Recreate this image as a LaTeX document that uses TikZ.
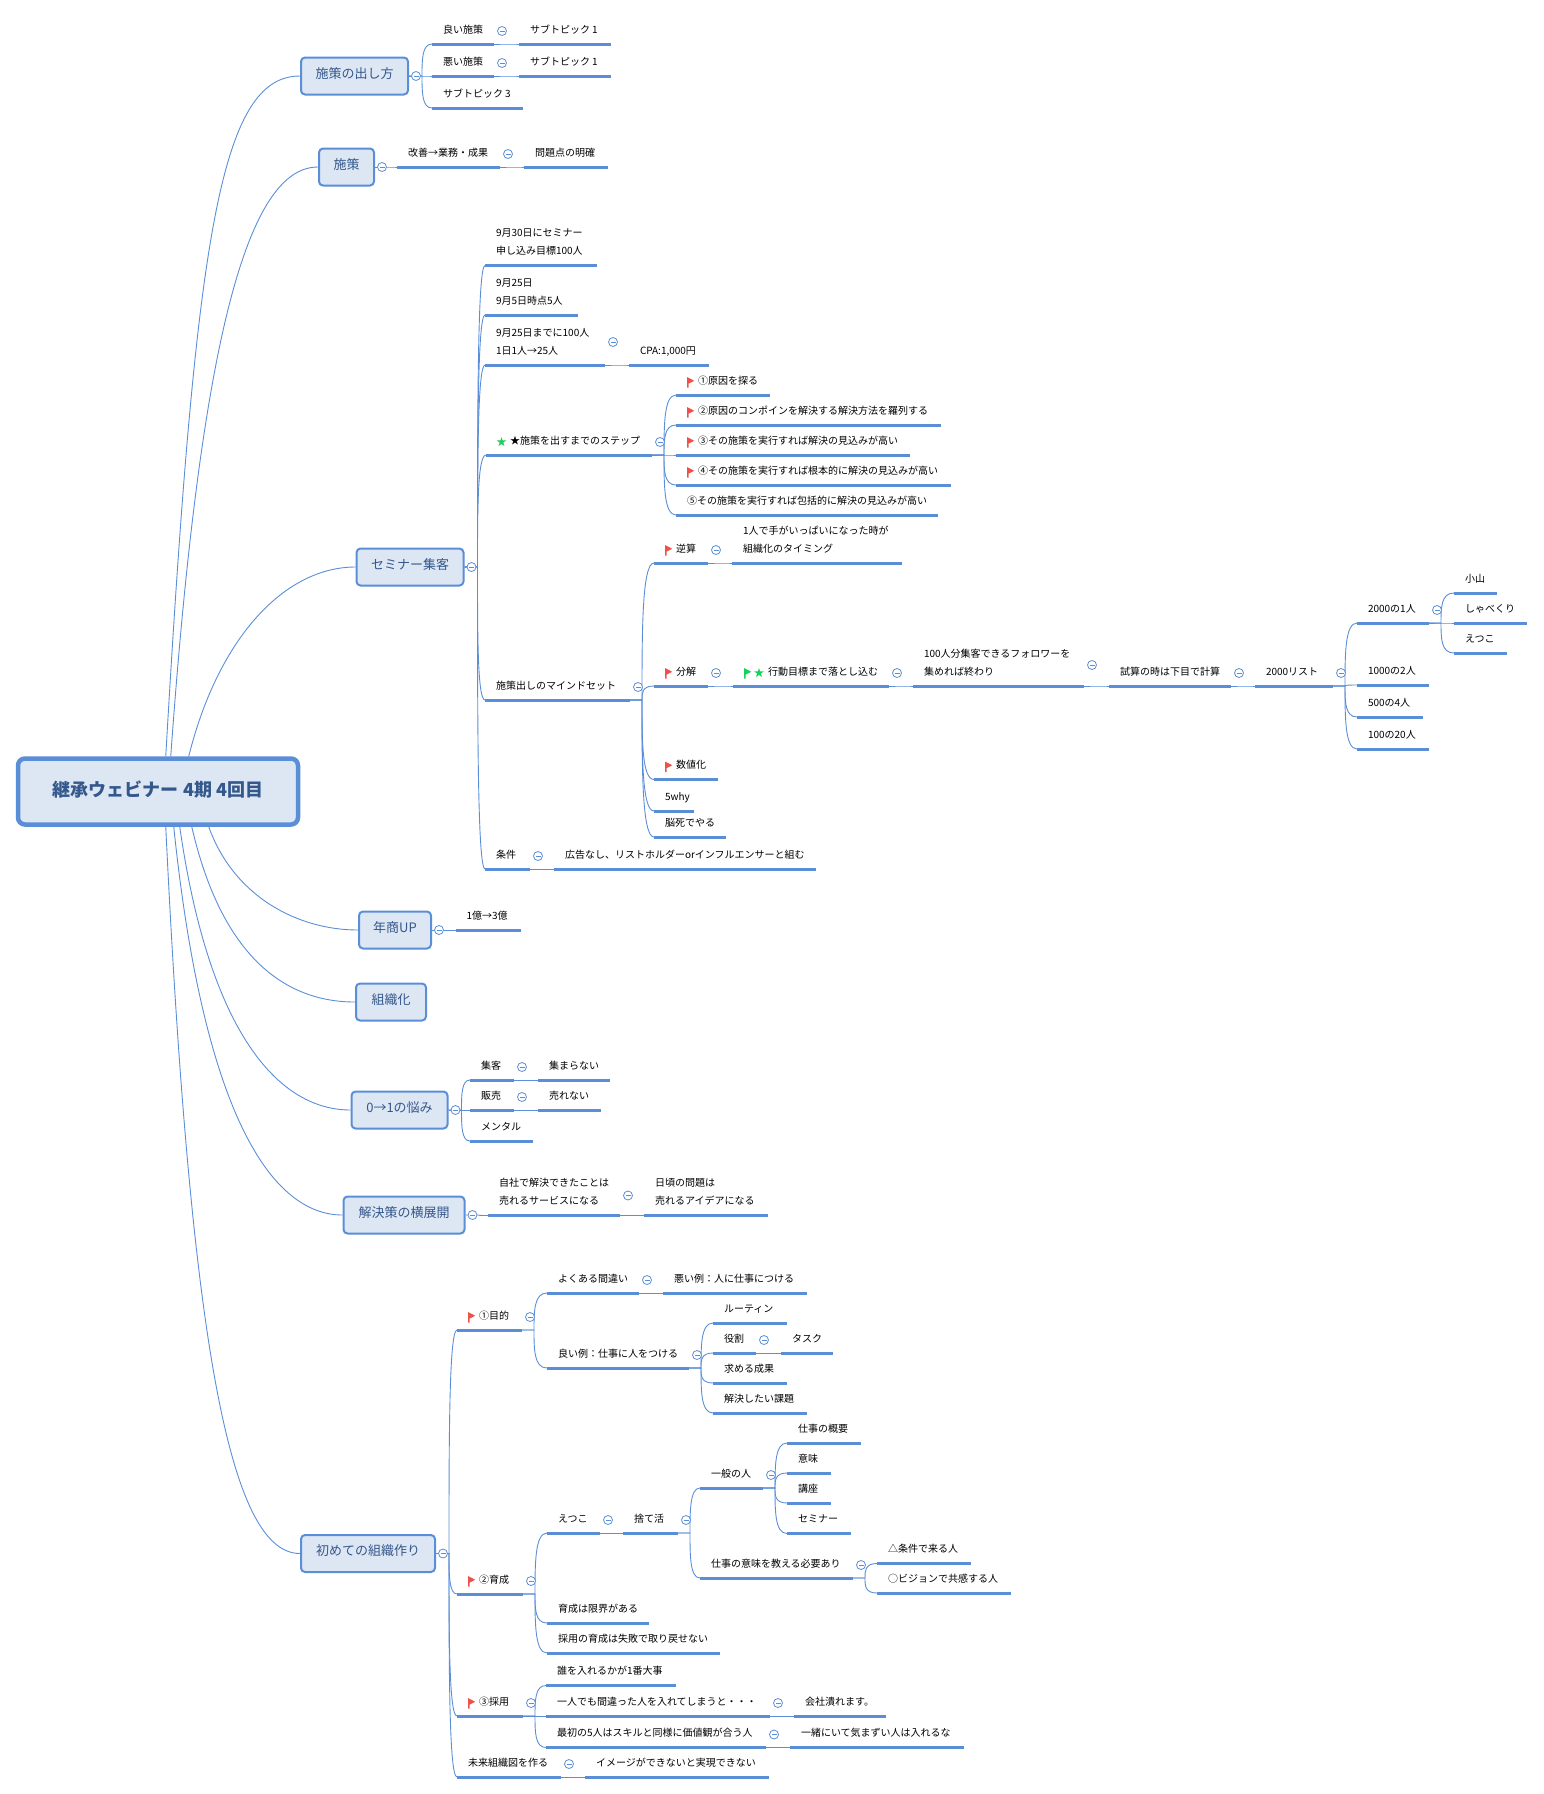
\documentclass[tikz,border=0pt]{standalone}
\usepackage{fontspec}
\setmainfont{Noto Sans CJK JP}
\usetikzlibrary{positioning, calc}

\definecolor{linkblue}{HTML}{5A8FD8}
\definecolor{boxfill}{HTML}{DDE6F3}
\definecolor{boxtext}{HTML}{34588C}
\definecolor{flagr}{HTML}{F0504A}
\definecolor{flagg}{HTML}{14D25A}

\tikzset{
	rootbox/.style={draw=linkblue, fill=boxfill, line width=4.5pt, rounded corners=7pt, text=boxtext, minimum width=280pt, minimum height=66pt, text height=12pt, text depth=3pt, font=\fontsize{18}{22}\selectfont\bfseries},
	topic/.style={draw=linkblue, fill=boxfill, line width=2pt, rounded corners=4pt, text=boxtext, minimum height=37pt, text height=8pt, text depth=4pt, font=\fontsize{13}{16}\selectfont},
	branch/.style={draw=linkblue, line width=0.9pt},
	bar/.style={draw=linkblue, line width=3pt},
	leaf/.style={anchor=south west, inner sep=0pt, outer sep=0pt, text depth=11pt, font=\fontsize{10}{12}\selectfont,
		execute at begin node={\hbox to #1pt\bgroup\hspace{11pt}},
		execute at end node={\hfil\egroup},
		append after command={(\tikzlastnode.south west) edge[bar] (\tikzlastnode.south east)}},
	fold/.style={circle, draw=linkblue, fill=white, line width=0.8pt, inner sep=0pt, minimum size=9pt,
		path picture={\draw[linkblue, line width=0.7pt] ([xshift=2pt]path picture bounding box.west) -- ([xshift=-2pt]path picture bounding box.east);}},
	flag/.pic={\fill[#1] (0,0) -- (7.3,3.8) -- (1.5,6.6) -- (1.5,10.5) -- (0,10.5) -- cycle;},
	starmark/.pic={\fill[#1] (-90:5) \foreach \i in {1,...,4} {-- (-90+144*\i:5)} -- cycle;},
}

\newcommand{\twolines}[2]{\vbox{\baselineskip=18pt\hbox{#1}\hbox{#2}}}
\newcommand{\ico}{\hspace*{11pt}}
\newcommand{\fork}[3][-13]{
	\foreach \kid in {#3} {\draw[branch] (#2.south east) -- ++(12,0) coordinate (f) .. controls ($(f)!0.5!(f |- \kid.south west)$) and (f |- \kid.south west) .. (\kid.south west);}
	\node[fold] (m#2) at ([shift={(8,#1)}]#2.south east) {};
}
\newcommand{\forkbox}[2]{
	\foreach \kid in {#2} {\draw[branch] (#1.east) -- ++(13,0) coordinate (f) .. controls ($(f)!0.5!(f |- \kid.south west)$) and (f |- \kid.south west) .. (\kid.south west);}
	\node[fold] (m#1) at ([xshift=7pt]#1.east) {};
}

\begin{document}
\begin{tikzpicture}[x=1pt, y=-1pt]

	\useasboundingbox (0,0) rectangle (1544,1794);

	% root and main topics
	\node[rootbox] (root) at (158,791.5) {継承ウェビナー 4期 4回目};
	\node[topic, minimum width=107pt] (t1) at (354.5,76) {施策の出し方};
	\node[topic, minimum width=55pt] (t2) at (346.5,167) {施策};
	\node[topic, minimum width=107pt] (t3) at (410,567) {セミナー集客};
	\node[topic, minimum width=72pt] (t4) at (395,930) {年商UP};
	\node[topic, minimum width=70pt] (t5) at (391,1002) {組織化};
	\node[topic, minimum width=96pt] (t6) at (399.5,1110) {0→1の悩み};
	\node[topic, minimum width=121pt] (t7) at (404,1215) {解決策の横展開};
	\node[topic, minimum width=134pt] (t8) at (368,1553.5) {初めての組織作り};

	\draw[branch] ([xshift=150pt]root.north west) .. controls +(30,-520) and +(-80,0) .. (t1.west);
	\draw[branch] ([xshift=155pt]root.north west) .. controls +(30,-420) and +(-70,0) .. (t2.west);
	\draw[branch] ([xshift=173pt]root.north west) .. controls +(30,-120) and +(-70,0) .. (t3.west);
	\draw[branch] ([xshift=193pt]root.south west) .. controls +(25,70) and +(-60,0) .. (t4.west);
	\draw[branch] ([xshift=176pt]root.south west) .. controls +(30,130) and +(-70,0) .. (t5.west);
	\draw[branch] ([xshift=164pt]root.south west) .. controls +(30,210) and +(-70,0) .. (t6.west);
	\draw[branch] ([xshift=158pt]root.south west) .. controls +(30,290) and +(-70,0) .. (t7.west);
	\draw[branch] ([xshift=150pt]root.south west) .. controls +(25,520) and +(-70,0) .. (t8.west);

	% first topic
	\node[leaf=62] (t1a) at (432,44) {良い施策};
	\node[leaf=92] (t1a1) at (519,44) {サブトピック 1};
	\node[leaf=62] (t1b) at (432,76) {悪い施策};
	\node[leaf=92] (t1b1) at (519,76) {サブトピック 1};
	\node[leaf=91] (t1c) at (432,108) {サブトピック 3};

	% second topic
	\node[leaf=103] (t2a) at (397,167) {改善→業務・成果};
	\node[leaf=84] (t2a1) at (524,167) {問題点の明確};

	% seminar topic
	\node[leaf=112] (t3a) at (485,265.5) {\twolines{9月30日にセミナー}{申し込み目標100人}};
	\node[leaf=93] (t3b) at (485,315) {\twolines{9月25日}{9月5日時点5人}};
	\node[leaf=120] (t3c) at (485,365) {\twolines{9月25日までに100人}{1日1人→25人}};
	\node[leaf=80] (t3c1) at (629,365) {CPA:1,000円};
	\node[leaf=166] (t3d) at (486,455) {\hspace*{13pt}★施策を出すまでのステップ};
	\node[leaf=94] (t3d1) at (676,395) {\ico ①原因を探る};
	\node[leaf=265] (t3d2) at (676,425) {\ico ②原因のコンポインを解決する解決方法を羅列する};
	\node[leaf=234] (t3d3) at (676,455) {\ico ③その施策を実行すれば解決の見込みが高い};
	\node[leaf=275] (t3d4) at (676,485) {\ico ④その施策を実行すれば根本的に解決の見込みが高い};
	\node[leaf=262] (t3d5) at (676,515) {⑤その施策を実行すれば包括的に解決の見込みが高い};
	\node[leaf=145] (t3e) at (485,700) {施策出しのマインドセット};
	\node[leaf=54] (t3e1) at (654,563) {\ico 逆算};
	\node[leaf=170] (t3e1a) at (732,563) {\twolines{1人で手がいっぱいになった時が}{組織化のタイミング}};
	\node[leaf=54] (t3e2) at (654,686) {\ico 分解};
	\node[leaf=156] (t3e2a) at (733,686) {\ico\hspace*{13pt}行動目標まで落とし込む};
	\node[leaf=171] (t3e2b) at (913,686) {\twolines{100人分集客できるフォロワーを}{集めれば終わり}};
	\node[leaf=122] (t3e2c) at (1109,686) {試算の時は下目で計算};
	\node[leaf=78] (t3e2d) at (1255,686) {2000リスト};
	\node[leaf=72] (l1) at (1357,623) {2000の1人};
	\node[leaf=72] (l2) at (1357,685) {1000の2人};
	\node[leaf=66] (l3) at (1357,717) {500の4人};
	\node[leaf=72] (l4) at (1357,749) {100の20人};
	\node[leaf=43] (l1a) at (1454,593) {小山};
	\node[leaf=73] (l1b) at (1454,623) {しゃべくり};
	\node[leaf=53] (l1c) at (1454,653) {えつこ};
	\node[leaf=64] (t3e3) at (654,779.5) {\ico 数値化};
	\node[leaf=40] (t3e4) at (654,811) {5why};
	\node[leaf=72] (t3e5) at (654,837) {脳死でやる};
	\node[leaf=45] (t3f) at (485,869) {条件};
	\node[leaf=262] (t3f1) at (554,869) {広告なし、リストホルダーorインフルエンサーと組む};

	% small topics
	\node[leaf=65] (t4a) at (455.5,930) {1億→3億};
	\node[leaf=44] (t6a) at (470,1080) {集客};
	\node[leaf=72] (t6a1) at (538,1080) {集まらない};
	\node[leaf=44] (t6b) at (470,1110) {販売};
	\node[leaf=63] (t6b1) at (538,1110) {売れない};
	\node[leaf=63] (t6c) at (470,1141) {メンタル};
	\node[leaf=132] (t7a) at (488,1215.5) {\twolines{自社で解決できたことは}{売れるサービスになる}};
	\node[leaf=124] (t7a1) at (644,1215.5) {\twolines{日頃の問題は}{売れるアイデアになる}};

	% last topic
	\node[leaf=65] (t8a) at (457,1330) {\ico ①目的};
	\node[leaf=92] (t8a1) at (547,1293) {よくある間違い};
	\node[leaf=144] (t8a1a) at (663,1293) {悪い例：人に仕事につける};
	\node[leaf=142] (t8a2) at (547,1368) {良い例：仕事に人をつける};
	\node[leaf=74] (t8a2a) at (713,1323) {ルーティン};
	\node[leaf=43] (t8a2b) at (713,1353) {役割};
	\node[leaf=52] (t8a2c) at (781,1353) {タスク};
	\node[leaf=74] (t8a2d) at (713,1383) {求める成果};
	\node[leaf=94] (t8a2e) at (713,1413) {解決したい課題};
	\node[leaf=66] (t8b) at (457,1594) {\ico ②育成};
	\node[leaf=53] (t8b1) at (547,1533) {えつこ};
	\node[leaf=55] (t8b1a) at (623,1533) {捨て活};
	\node[leaf=63] (t8b2) at (700,1488) {一般の人};
	\node[leaf=74] (t8b2a) at (787,1443) {仕事の概要};
	\node[leaf=44] (t8b2b) at (787,1473) {意味};
	\node[leaf=44] (t8b2c) at (787,1503) {講座};
	\node[leaf=64] (t8b2d) at (787,1533.5) {セミナー};
	\node[leaf=153] (t8b3) at (700,1578) {仕事の意味を教える必要あり};
	\node[leaf=94] (t8b3a) at (877,1563.5) {△条件で来る人};
	\node[leaf=134] (t8b3b) at (877,1593) {○ビジョンで共感する人};
	\node[leaf=102] (t8b4) at (547,1623) {育成は限界がある};
	\node[leaf=173] (t8b5) at (547,1653) {採用の育成は失敗で取り戻せない};
	\node[leaf=66] (t8c) at (457,1716) {\ico ③採用};
	\node[leaf=130] (t8c1) at (546,1685.5) {誰を入れるかが1番大事};
	\node[leaf=224] (t8c2) at (546,1716) {一人でも間違った人を入れてしまうと・・・};
	\node[leaf=92] (t8c2a) at (794,1716) {会社潰れます。};
	\node[leaf=220] (t8c3) at (546,1747.5) {最初の5人はスキルと同様に価値観が合う人};
	\node[leaf=174] (t8c3a) at (790,1747.5) {一緒にいて気まずい人は入れるな};
	\node[leaf=104] (t8d) at (457,1777) {未来組織図を作る};
	\node[leaf=184] (t8d1) at (585,1777) {イメージができないと実現できない};

	% forks
	\forkbox{t1}{t1a,t1b,t1c}
	\fork{t1a}{t1a1}
	\fork{t1b}{t1b1}
	\forkbox{t2}{t2a}
	\fork{t2a}{t2a1}
	\forkbox{t3}{t3a,t3b,t3c,t3d,t3e,t3f}
	\fork[-23]{t3c}{t3c1}
	\fork{t3d}{t3d1,t3d2,t3d3,t3d4,t3d5}
	\fork{t3e}{t3e1,t3e2,t3e3,t3e4,t3e5}
	\fork{t3e1}{t3e1a}
	\fork{t3e2}{t3e2a}
	\fork{t3e2a}{t3e2b}
	\fork[-21]{t3e2b}{t3e2c}
	\fork{t3e2c}{t3e2d}
	\fork{t3e2d}{l1,l2,l3,l4}
	\fork{l1}{l1a,l1b,l1c}
	\fork{t3f}{t3f1}
	\forkbox{t4}{t4a}
	\forkbox{t6}{t6a,t6b,t6c}
	\fork{t6a}{t6a1}
	\fork{t6b}{t6b1}
	\forkbox{t7}{t7a}
	\fork[-20]{t7a}{t7a1}
	\forkbox{t8}{t8a,t8b,t8c,t8d}
	\fork{t8a}{t8a1,t8a2}
	\fork{t8a1}{t8a1a}
	\fork{t8a2}{t8a2a,t8a2b,t8a2d,t8a2e}
	\fork{t8a2b}{t8a2c}
	\fork{t8b}{t8b1,t8b4,t8b5}
	\fork{t8b1}{t8b1a}
	\fork{t8b1a}{t8b2,t8b3}
	\fork{t8b2}{t8b2a,t8b2b,t8b2c,t8b2d}
	\fork{t8b3}{t8b3a,t8b3b}
	\fork{t8c}{t8c1,t8c2,t8c3}
	\fork{t8c2}{t8c2a}
	\fork{t8c3}{t8c3a}
	\fork{t8d}{t8d1}

	% flags and stars
	\foreach \n in {t3d1,t3d2,t3d3,t3d4,t3e1,t3e2,t3e3,t8a,t8b,t8c} {\pic at ([shift={(11,-18)}]\n.south west) {flag=flagr};}
	\pic at ([shift={(11,-18)}]t3e2a.south west) {flag=flagg};
	\pic at ([shift={(15.5,-13)}]t3d.south west) {starmark=flagg};
	\pic at ([shift={(26,-13)}]t3e2a.south west) {starmark=flagg};

\end{tikzpicture}
\end{document}
